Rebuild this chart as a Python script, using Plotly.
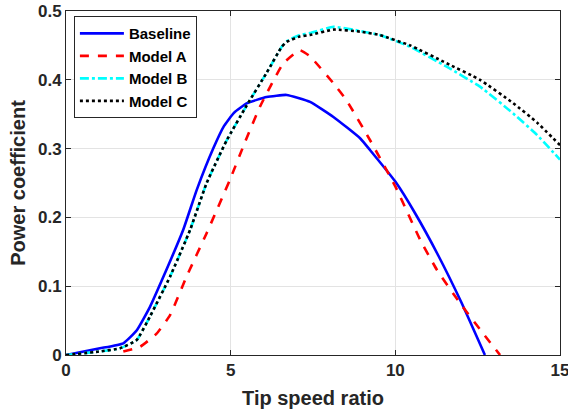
import plotly.graph_objects as go

base_x = [0, 1.03, 1.74, 2.15, 2.55, 2.96, 3.56, 3.97, 4.47, 4.8, 5.1, 5.5, 6.09, 6.7, 7.41, 8.12, 8.93, 9.23, 10, 10.6, 11.3, 12.0, 12.72]
base_y = [0, 0.0097, 0.017, 0.036, 0.070, 0.114, 0.182, 0.24, 0.30, 0.333, 0.352, 0.366, 0.375, 0.378, 0.368, 0.346, 0.315, 0.298, 0.252, 0.206, 0.145, 0.077, 0]

a_x = [1.74, 2.25, 2.75, 3.16, 3.66, 4.27, 4.98, 5.44, 5.89, 6.6, 7.1, 7.41, 8.12, 8.52, 9.23, 10, 10.75, 11.26, 11.97, 12.67, 13.18]
a_y = [0.005, 0.012, 0.031, 0.058, 0.114, 0.177, 0.255, 0.31, 0.361, 0.424, 0.443, 0.434, 0.395, 0.37, 0.3125, 0.245, 0.168, 0.124, 0.075, 0.031, 0]

b_x = [0, 1.0, 1.64, 2.15, 2.55, 3.16, 3.77, 4.27, 4.88, 5.49, 6.09, 6.55, 6.7, 7.1, 7.41, 8.12, 8.93, 9.53, 10.45, 11.56, 12.57, 13.58, 14.3, 15]
b_y = [0, 0.005, 0.0097, 0.022, 0.056, 0.114, 0.182, 0.25, 0.312, 0.363, 0.41, 0.448, 0.456, 0.465, 0.468, 0.477, 0.471, 0.465, 0.448, 0.419, 0.39, 0.351, 0.32, 0.284]

c_x = b_x
c_y = [0, 0.005, 0.0097, 0.022, 0.056, 0.114, 0.182, 0.25, 0.312, 0.363, 0.41, 0.448, 0.455, 0.463, 0.465, 0.473, 0.47, 0.465, 0.45, 0.424, 0.40, 0.366, 0.338, 0.305]

names = ["Baseline", "Model A", "Model B", "Model C"]
x_ticks = [0, 5, 10, 15]
y_ticks = [0, 0.1, 0.2, 0.3, 0.4, 0.5]
y_tick_labels = ["0", "0.1", "0.2", "0.3", "0.4", "0.5"]

fig = go.Figure()
styles = [("#0000ff", "solid"), ("#ff0000", "dash"), ("#00ffff", "dashdot"), ("#000000", "dot")]
for (xs, ys), name, (col, dash) in zip([(base_x, base_y), (a_x, a_y), (b_x, b_y), (c_x, c_y)], names, styles):
    fig.add_trace(go.Scatter(x=xs, y=ys, name="<b>" + name + "</b>", mode="lines",
                             line=dict(color=col, width=2.6, dash=dash, shape="spline", smoothing=0.4)))

tick_font = dict(family="Liberation Sans", size=17, color="#262626")
title_font = dict(family="Liberation Sans", size=20, color="#262626")
axis_common = dict(showline=True, linecolor="#262626", linewidth=1, mirror="ticks",
                   ticks="inside", ticklen=5, tickcolor="#262626",
                   showgrid=True, gridcolor="#e3e3e3", gridwidth=1, zeroline=False,
                   automargin=False, tickfont=tick_font, ticklabeloverflow="allow")

fig.update_layout(
    width=568, height=413,
    margin=dict(l=66, r=8, t=11, b=58),
    paper_bgcolor="white", plot_bgcolor="white",
    font=dict(family="Liberation Sans", color="#262626"),
    showlegend=True,
    legend=dict(x=0.016, y=0.985, xanchor="left", yanchor="top",
                bordercolor="#262626", borderwidth=1, bgcolor="white",
                font=dict(family="Liberation Sans", size=15, color="black"),
                tracegroupgap=0, itemwidth=44),
    xaxis=dict(range=[0, 15], tickvals=x_ticks, ticktext=["<b>%g</b>" % v for v in x_ticks],
               title=dict(text="<b>Tip speed ratio</b>", font=title_font, standoff=11),
               **axis_common),
    yaxis=dict(range=[0, 0.5], tickvals=y_ticks, ticktext=["<b>%s</b>" % t for t in y_tick_labels],
               title=dict(text="<b>Power coefficient</b>", font=title_font, standoff=6),
               **axis_common),
)

fig.write_html("out.html", config={"displayModeBar": False},
               post_script="document.body.style.margin='0';document.body.style.overflow='hidden';")
